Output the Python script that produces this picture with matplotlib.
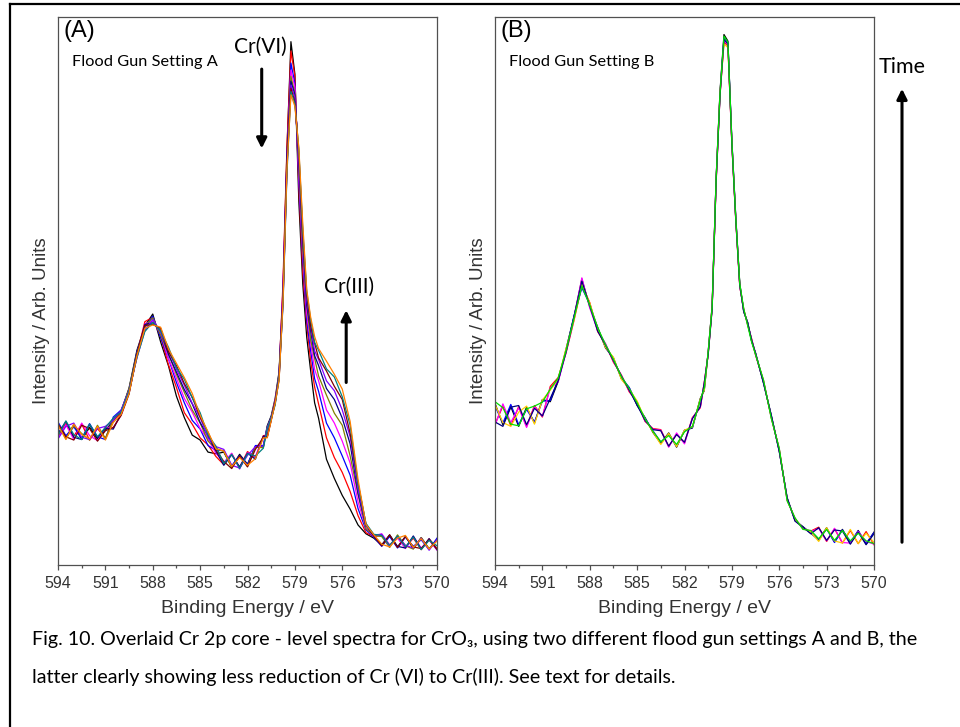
import matplotlib
matplotlib.use('Agg')
import matplotlib.pyplot as plt
from matplotlib.ticker import MultipleLocator

plt.rcParams['font.family'] = ['Liberation Sans', 'DejaVu Sans']

# bindningsenergi (eV), gemensam för alla spektra
be = [594.0, 593.5, 593.0, 592.5, 592.0, 591.5, 591.0, 590.5,
      590.0, 589.5, 589.0, 588.5, 588.0, 587.5, 587.0, 586.5, 586.0, 585.5, 585.0, 584.5, 584.0,
      583.5, 583.0, 582.5, 582.0, 581.5, 581.0, 580.75,
      580.5, 580.25, 580.0, 579.75, 579.5, 579.25, 579.0, 578.75, 578.5, 578.25, 578.0, 577.75,
      577.5, 577.0, 576.5, 576.0, 575.5, 575.0, 574.5, 574.0,
      573.5, 573.0, 572.5, 572.0, 571.5, 571.0, 570.5, 570.0]

# Flood gun setting A (tidig -> sen skanning)
a0 = [25.9, 23.2, 25.6, 22.9, 25.1, 23.0, 24.6, 26.3,
      28.0, 32.3, 39.2, 43.6, 45.8, 40.7, 36.3, 30.8, 26.9, 23.7, 22.8, 20.6, 20.3,
      20.6, 17.9, 20.2, 18.4, 21.6, 21.5, 25.4,
      27.2, 30.4, 35.3, 50.5, 75.8, 95.5, 89.6, 66.4, 51.3, 41.6, 35.4, 29.6, 26.8, 19.3, 15.8, 12.7, 10.2, 7.3, 5.7, 4.9,
      3.6, 5.5, 3.3, 5.2, 3.0, 5.0, 2.9, 4.7]
a1 = [23.4, 25.8, 23.5, 25.7, 22.8, 24.9, 23.1, 26.5,
      27.6, 31.8, 38.5, 44.4, 45.2, 41.6, 36.5, 32.4, 27.8, 25.7, 23.2, 21.9, 19.8,
      18.3, 20.3, 17.8, 20.7, 19.6, 23.6, 23.7,
      26.8, 29.9, 34.6, 51.8, 76.5, 93.8, 89.2, 68.9, 53.4, 43.9, 37.2, 32.5, 29.4, 23.2, 19.6, 16.9, 13.4, 9.0, 5.9, 5.2,
      5.4, 3.5, 5.3, 3.2, 4.9, 2.8, 4.8, 3.0]
a2 = [26.1, 23.6, 25.2, 23.1, 25.8, 23.4, 22.9, 27.0,
      28.3, 32.0, 38.9, 43.3, 45.4, 41.5, 37.6, 33.3, 29.6, 26.4, 24.8, 21.8, 20.9,
      20.9, 18.1, 20.0, 18.3, 21.8, 21.8, 25.2,
      27.0, 29.6, 35.1, 49.2, 74.1, 91.6, 87.9, 70.1, 55.6, 44.7, 39.1, 34.0, 31.7, 25.9, 23.2, 19.9, 16.4, 10.3, 6.4, 5.1,
      3.4, 5.2, 3.1, 5.1, 3.4, 4.6, 2.8, 4.9]
a3 = [23.1, 25.6, 22.9, 25.9, 23.6, 22.7, 25.2, 25.0,
      27.4, 31.5, 38.0, 44.0, 44.5, 42.3, 37.6, 34.1, 30.4, 27.9, 24.9, 22.9, 20.4,
      18.7, 20.4, 17.5, 20.5, 19.8, 23.4, 23.5,
      26.6, 30.1, 34.5, 50.9, 73.6, 90.3, 87.2, 71.4, 57.0, 45.9, 40.5, 35.7, 33.6, 28.3, 25.9, 22.6, 18.6, 11.5, 6.7, 5.2,
      5.7, 3.7, 4.9, 3.0, 5.2, 3.1, 4.6, 2.7]
a4 = [25.8, 23.0, 25.4, 24.0, 22.8, 25.5, 23.1, 26.6,
      28.1, 32.2, 38.6, 43.5, 45.1, 42.0, 38.5, 34.8, 31.5, 28.3, 25.9, 22.6, 21.3,
      20.7, 17.8, 19.8, 18.0, 21.5, 21.4, 25.1,
      26.9, 29.8, 34.9, 48.6, 72.8, 89.2, 86.0, 73.1, 57.7, 47.4, 41.1, 37.7, 34.5, 31.0, 27.7, 25.5, 19.9, 12.9, 6.6, 5.4,
      5.2, 3.2, 5.5, 3.5, 2.9, 5.0, 3.0, 4.5]
a5 = [24.0, 26.2, 23.3, 22.9, 25.6, 23.2, 25.0, 24.8,
      27.7, 31.4, 38.3, 43.9, 44.2, 42.8, 38.4, 35.2, 32.0, 29.4, 26.0, 23.5, 20.8,
      18.2, 20.1, 17.9, 20.4, 19.3, 23.5, 23.4,
      26.5, 29.7, 34.4, 49.7, 74.4, 88.3, 85.8, 73.4, 59.4, 47.6, 42.7, 38.2, 36.4, 32.2, 30.2, 26.8, 22.1, 13.1, 7.2, 5.3,
      3.7, 5.4, 3.4, 3.1, 5.3, 2.9, 4.8, 2.8]
a6 = [23.0, 25.3, 25.9, 23.3, 22.9, 24.9, 25.3, 26.4,
      28.2, 31.9, 37.8, 42.8, 44.8, 42.5, 39.2, 35.7, 32.8, 29.5, 26.9, 23.2, 21.6,
      21.1, 18.2, 17.7, 20.0, 21.6, 21.7, 25.0,
      26.8, 29.4, 34.2, 47.9, 72.2, 87.6, 85.3, 74.1, 60.3, 48.4, 43.5, 39.1, 37.5, 33.6, 31.8, 28.3, 23.4, 13.8, 7.3, 5.5,
      5.6, 3.4, 5.2, 3.6, 3.1, 4.9, 2.7, 4.6]
a7 = [25.7, 23.4, 22.8, 25.5, 24.9, 22.6, 24.5, 25.1,
      27.3, 31.2, 38.4, 43.7, 43.9, 43.2, 38.9, 36.4, 33.1, 30.6, 27.0, 24.2, 21.0,
      18.9, 17.6, 19.9, 17.9, 21.1, 23.3, 23.3,
      26.4, 29.6, 33.8, 48.4, 73.0, 87.0, 84.5, 75.3, 60.6, 49.4, 43.6, 40.5, 37.8, 35.4, 32.6, 30.2, 24.0, 14.9, 7.5, 5.3,
      3.5, 5.5, 3.2, 5.2, 3.3, 3.0, 4.6, 2.9]
a8 = [23.6, 26.3, 23.8, 22.9, 25.7, 23.4, 25.1, 26.8,
      27.9, 31.7, 37.9, 42.6, 44.3, 42.7, 39.7, 36.0, 33.9, 30.5, 27.8, 23.7, 21.7,
      18.5, 20.2, 17.6, 20.3, 19.9, 21.3, 24.8,
      26.7, 29.2, 34.1, 47.5, 71.5, 86.4, 84.2, 75.8, 61.2, 49.9, 44.8, 40.6, 39.2, 35.8, 34.3, 30.7, 25.5, 14.8, 7.6, 5.6,
      5.4, 3.6, 5.3, 3.3, 5.1, 2.8, 4.5, 3.5]
a9 = [25.5, 22.9, 25.7, 23.8, 23.0, 25.3, 22.8, 26.0,
      27.5, 31.3, 38.2, 43.2, 43.8, 43.4, 39.4, 36.8, 34.2, 31.3, 27.3, 24.3, 21.2,
      20.8, 18.0, 19.6, 18.2, 19.4, 23.2, 23.2,
      26.3, 29.5, 33.7, 48.2, 72.4, 85.8, 83.7, 76.2, 62.3, 50.3, 45.2, 41.7, 39.5, 37.2, 34.8, 32.1, 26.2, 15.6, 7.4, 5.5,
      3.8, 3.3, 4.9, 5.4, 3.2, 4.8, 2.9, 4.4]

# Flood gun setting B
b0 = [29.5, 25.6, 28.9, 25.3, 28.8, 25.9, 30.2, 29.8,
      33.5, 39.4, 45.3, 52.2, 47.1, 43.4, 39.6, 37.8, 34.0, 32.3, 29.1, 26.9, 24.2,
      22.2, 24.1, 21.5, 24.6, 25.0, 30.4, 31.8,
      38.9, 47.3, 70.4, 86.5, 96.8, 95.6, 77.3, 63.2, 51.4, 46.2, 44.3, 40.8, 38.7, 33.3, 27.2, 20.8, 12.2, 8.1, 7.0, 5.8,
      4.6, 6.8, 4.2, 6.5, 3.9, 6.3, 3.8, 6.0]
b1 = [25.7, 29.0, 25.4, 28.9, 25.3, 29.1, 27.0, 32.6,
      34.2, 38.7, 44.6, 51.0, 47.9, 42.6, 40.3, 37.0, 34.7, 31.6, 29.8, 26.2, 24.9,
      24.7, 21.6, 23.9, 22.3, 26.9, 28.7, 33.3,
      38.5, 46.8, 69.6, 85.7, 95.4, 94.7, 76.8, 62.7, 50.8, 46.7, 43.8, 41.3, 38.3, 33.7, 26.8, 21.2, 11.8, 8.5, 6.6, 6.2,
      6.9, 4.3, 6.6, 4.0, 6.3, 3.9, 6.1, 3.7]
b2 = [29.0, 25.9, 29.3, 25.6, 28.4, 26.1, 29.9, 30.0,
      33.9, 39.2, 45.4, 50.6, 47.6, 43.2, 39.8, 37.6, 34.2, 32.4, 29.3, 26.8, 24.5,
      22.4, 23.8, 21.7, 24.5, 25.1, 30.2, 32.0,
      38.8, 47.1, 70.2, 86.2, 96.2, 95.3, 77.5, 63.4, 51.2, 46.4, 44.1, 40.9, 38.6, 33.4, 27.1, 20.9, 12.1, 8.2, 6.9, 5.9,
      4.5, 6.6, 4.1, 6.4, 4.2, 6.2, 3.9, 5.9]
b3 = [25.5, 29.4, 26.0, 28.7, 25.1, 28.9, 27.1, 32.3,
      33.4, 38.8, 44.9, 52.4, 46.9, 42.8, 40.4, 37.2, 34.6, 31.8, 29.7, 26.3, 24.8,
      24.6, 21.5, 24.1, 22.1, 26.8, 28.8, 33.1,
      38.6, 46.9, 69.8, 85.9, 95.8, 94.9, 76.6, 62.8, 50.9, 46.6, 43.9, 41.2, 38.4, 33.6, 26.9, 21.1, 11.9, 8.4, 6.7, 6.1,
      6.7, 4.4, 6.7, 4.1, 4.0, 6.1, 4.3, 3.8]
b4 = [29.3, 26.0, 25.3, 27.9, 29.0, 25.7, 30.1, 31.9,
      34.0, 39.5, 44.7, 51.3, 47.8, 43.1, 39.7, 37.9, 33.9, 32.1, 29.9, 26.6, 24.3,
      22.0, 24.0, 21.6, 24.6, 25.2, 30.3, 31.9,
      38.7, 47.2, 70.1, 86.3, 95.1, 94.4, 77.1, 63.1, 51.1, 46.5, 44.0, 41.0, 38.5, 33.5, 27.0, 21.0, 12.0, 8.3, 6.8, 6.0,
      4.3, 6.8, 4.4, 4.0, 6.5, 3.9, 5.8, 4.1]
b5 = [26.1, 25.3, 28.8, 29.1, 25.6, 28.6, 27.2, 30.4,
      33.6, 38.9, 45.2, 51.8, 47.3, 42.7, 40.1, 37.3, 34.5, 31.9, 29.2, 26.4, 24.7,
      24.5, 21.7, 23.8, 22.4, 26.7, 28.9, 33.2,
      38.4, 46.7, 69.9, 85.8, 95.9, 95.1, 76.9, 62.9, 51.0, 46.3, 44.2, 41.1, 38.6, 33.2, 27.3, 20.7, 12.3, 8.0, 6.9, 5.7,
      6.8, 4.5, 6.4, 6.2, 3.8, 6.0, 3.7, 5.7]
b6 = [29.8, 28.7, 25.7, 25.4, 28.5, 29.0, 29.7, 32.1,
      34.1, 39.1, 45.0, 50.9, 47.4, 43.3, 40.2, 37.5, 34.4, 32.2, 29.6, 26.7, 24.4,
      22.5, 23.6, 22.0, 24.3, 25.3, 30.1, 32.3,
      38.9, 47.0, 70.3, 86.1, 96.5, 95.4, 77.2, 63.0, 51.3, 46.8, 43.7, 40.7, 38.4, 33.8, 26.7, 21.3, 11.7, 8.6, 6.5, 6.3,
      4.8, 6.5, 4.5, 6.3, 4.4, 5.8, 4.4, 3.9]

spektraA = [a0, a1, a2, a3, a4, a5, a6, a7, a8, a9]
spektraB = [b0, b1, b2, b3, b4, b5, b6]
farger_A = ['#000000', '#FF0000', '#0000FF', '#FF00FF', '#808000',
            '#000080', '#8000FF', '#800000', '#008080', '#FF8000']
farger_B = ['#000000', '#FF0000', '#0000FF', '#FF00FF', '#FFD000', '#000080', '#00E000']
xticks = [594, 591, 588, 585, 582, 579, 576, 573, 570]

narrow = ['Lato', 'DejaVu Sans']

fig = plt.figure(figsize=(9.6, 7.27), dpi=100)
W, H = 960, 727

def fx(px):
    return px / W

def fy(py):
    return 1 - py / H

axA = fig.add_axes([fx(58), fy(565), 379 / W, 548 / H])
axB = fig.add_axes([fx(495), fy(565), 379 / W, 548 / H])

for ax, spektra, farger, tag, setting in [(axA, spektraA, farger_A, '(A)', 'Flood Gun Setting A'),
                                          (axB, spektraB, farger_B, '(B)', 'Flood Gun Setting B')]:
    for y, c in zip(spektra, farger):
        ax.plot(be, y, color=c, lw=0.9)
    ax.set_xlim(594, 570)
    ax.set_ylim(0, 100)
    ax.set_xticks(xticks)
    ax.set_xticklabels([str(t) for t in xticks])
    ax.xaxis.set_minor_locator(MultipleLocator(1.5))
    ax.tick_params(axis='x', which='major', direction='out', length=3.6, width=0.9,
                   color='#505050', labelcolor='#333333', labelsize=11.5, pad=4.5)
    ax.tick_params(axis='x', which='minor', direction='out', length=2.2, width=0.9, color='#505050')
    ax.set_yticks([])
    for s in ax.spines.values():
        s.set_color('#505050')
        s.set_linewidth(0.9)
    ax.set_xlabel('Binding Energy / eV', fontsize=14, color='#333333', labelpad=6)
    ax.set_ylabel('Intensity / Arb. Units', fontsize=13.5, color='#333333')
    ax.yaxis.set_label_coords(-0.022, 0.445)
    ax.text(0.015, 0.995, tag, transform=ax.transAxes, fontsize=17, va='top', ha='left')
    ax.text(0.037, 0.918, setting, transform=ax.transAxes, fontsize=11.8, va='center',
            ha='left', family=narrow)

# pilar och etiketter i panel A
axA.text(581.2, 94.5, 'Cr(VI)', fontsize=15, ha='center', va='center', family=narrow)
axA.annotate('', xy=(581.1, 75.5), xytext=(581.1, 91.0),
             arrowprops=dict(arrowstyle='-|>,head_length=0.6,head_width=0.3', lw=2.2, color='black'))
axA.text(575.6, 50.8, 'Cr(III)', fontsize=15, ha='center', va='center', family=narrow)
axA.annotate('', xy=(575.75, 47.0), xytext=(575.75, 32.8),
             arrowprops=dict(arrowstyle='-|>,head_length=0.6,head_width=0.3', lw=2.2, color='black'))

# tidspil till höger
fig.text(fx(902), fy(67), 'Time', fontsize=15.5, ha='center', va='center', family=narrow)
fig.add_artist(matplotlib.patches.FancyArrowPatch((fx(902), fy(545)), (fx(902), fy(86)),
               transform=fig.transFigure, arrowstyle='-|>,head_length=0.6,head_width=0.3',
               lw=2.2, color='black', mutation_scale=10))

# ram runt figuren
fig.add_artist(plt.Line2D([fx(10), fx(10)], [fy(4), 0], transform=fig.transFigure, color='black', lw=1.6))
fig.add_artist(plt.Line2D([fx(10), 1], [fy(4), fy(4)], transform=fig.transFigure, color='black', lw=1.6))

# figurtext
rad1 = ('Fig. 10. Overlaid Cr 2p core - level spectra for CrO\u2083, using two different flood gun '
        'settings A and B, the')
rad2 = 'latter clearly showing less reduction of Cr (VI) to Cr(III). See text for details.'
fig.text(fx(32), fy(640), rad1, fontsize=14.1, va='center', ha='left', family=narrow)
fig.text(fx(32), fy(677), rad2, fontsize=14.1, va='center', ha='left', family=narrow)

fig.savefig('out.png', dpi=100)
